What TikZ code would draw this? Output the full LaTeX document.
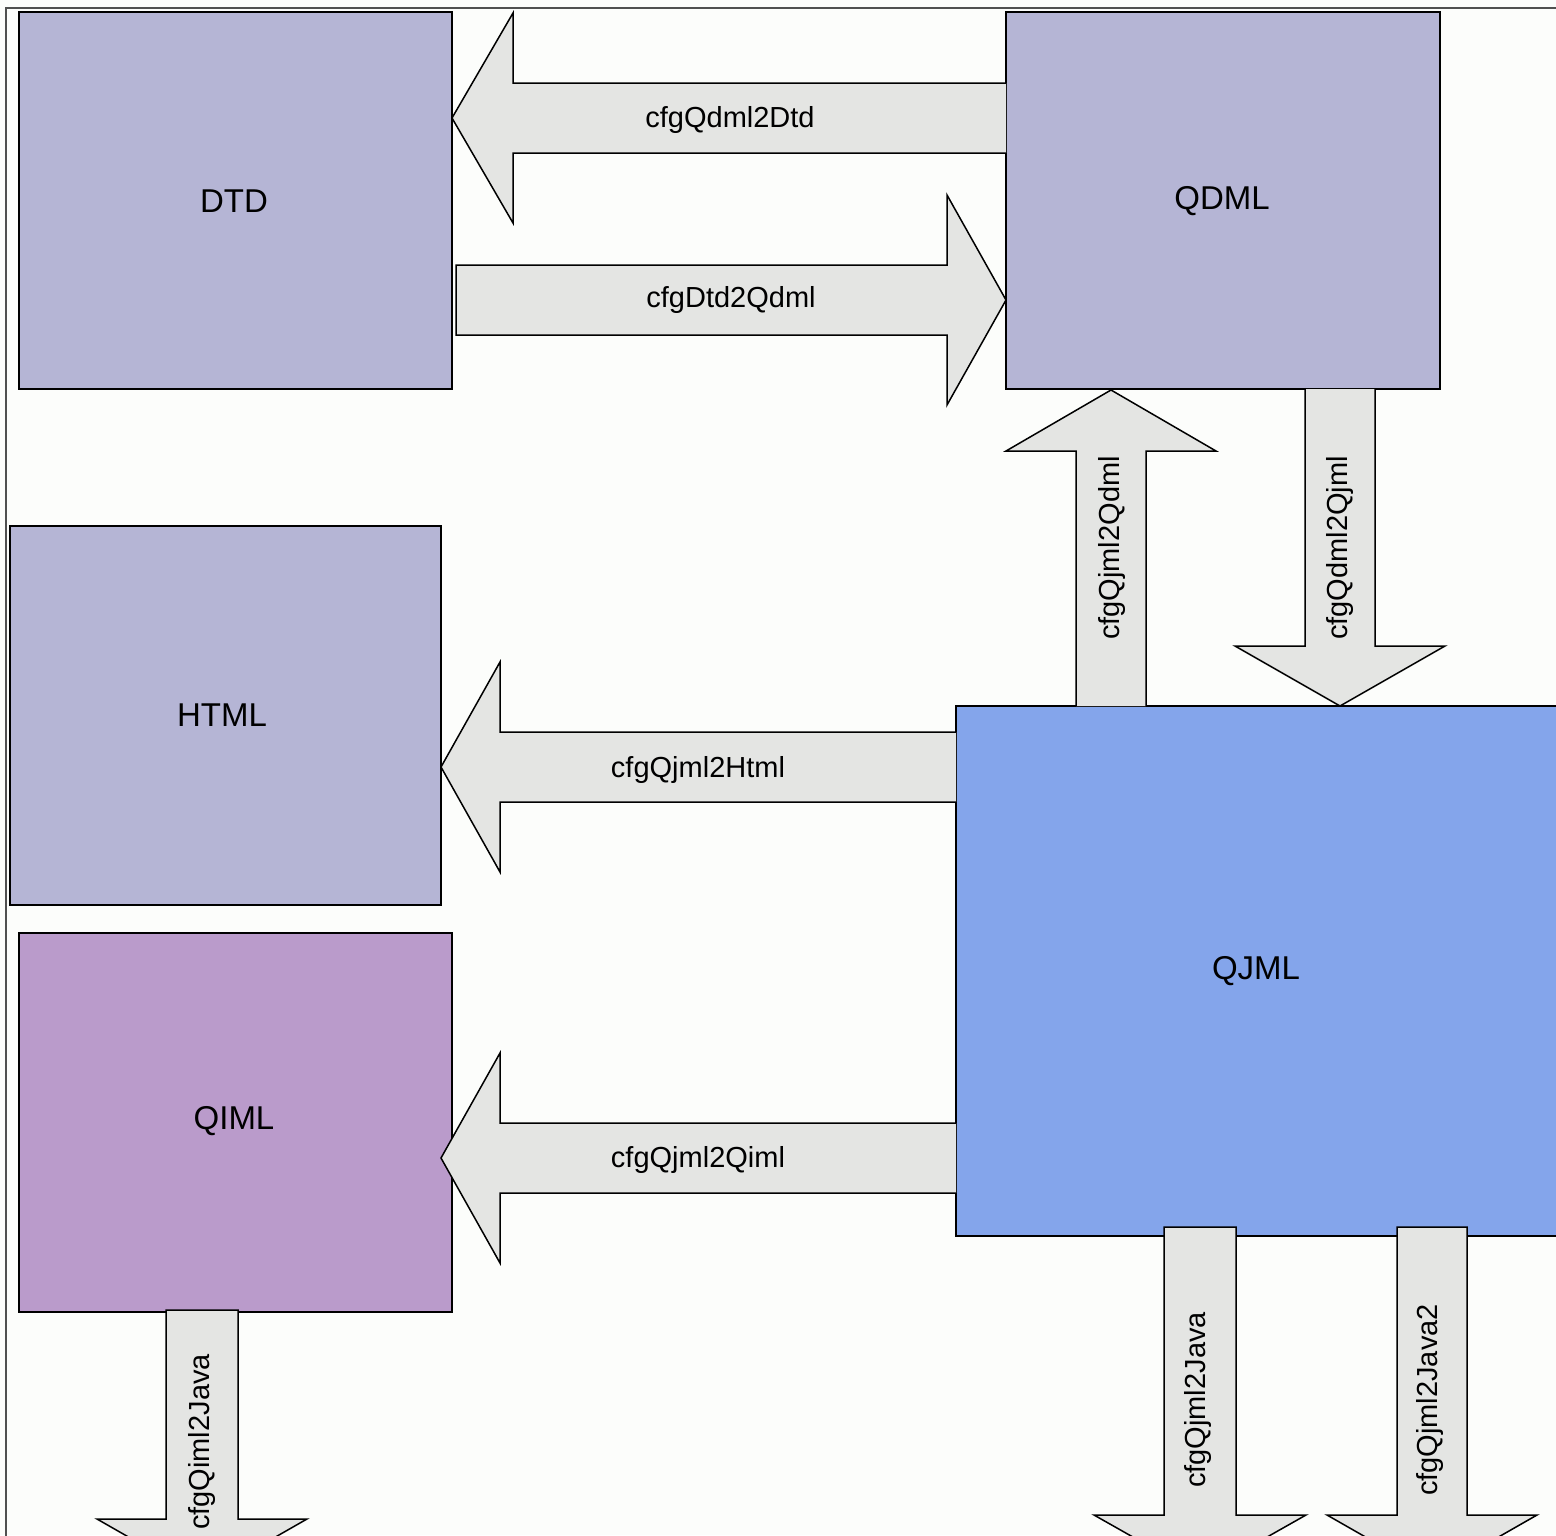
\documentclass[tikz,border=0pt]{standalone}
\usepackage{fontspec}
\setmainfont{Liberation Sans}
\begin{document}
\begin{tikzpicture}[x=1pt,y=-1pt,
  box/.style={draw=black, line width=1.5pt, inner sep=0pt, font=\fontsize{33}{38}\selectfont},
  bigarrow/.style={draw=black, line width=1.5pt, fill=arrowgray, line join=miter},
  arrowlabel/.style={font=\fontsize{29}{34}\selectfont, inner sep=0pt}]
\definecolor{bg}{HTML}{FCFDFB}
\definecolor{lav}{HTML}{B5B5D5}
\definecolor{qimlc}{HTML}{BA9BCB}
\definecolor{qjmlc}{HTML}{84A5EB}
\definecolor{arrowgray}{HTML}{E4E5E3}
\definecolor{framec}{HTML}{505050}
\useasboundingbox (0,0) rectangle (1556,1535);
\clip (0,0) rectangle (1556,1535);
\fill[bg] (0,0) rectangle (1556,1535);
\draw[framec, line width=1.5pt] (6,1540) -- (6,8) -- (1560,8);

% boxes
\draw[box, fill=lav] (19,12) rectangle (452,389);
\node[box, draw=none] (dtd) at (234,201) {DTD};
\draw[box, fill=lav] (1006,12) rectangle (1440,389);
\node[box, draw=none] (qdml) at (1222,201) {QDML};
\draw[box, fill=lav] (10,526) rectangle (441,905);
\node[box, draw=none] (html) at (222,715) {HTML};
\draw[box, fill=qimlc] (19,933) rectangle (452,1312);
\node[box, draw=none] (qiml) at (234,1121) {QIML};
\draw[box, fill=qjmlc] (956,706) rectangle (1600,1236);
\node[box, draw=none] (qjml) at (1256,971) {QJML};

% cfgQdml2Dtd (left)
\draw[bigarrow] (1006,83) -- (513,83) -- (513,13) -- (452,118) -- (513,223) -- (513,153) -- (1006,153);
\node[arrowlabel] (a1) at (730,120) {cfgQdml2Dtd};
% cfgDtd2Qdml (right)
\draw[bigarrow] (456,265) -- (947,265) -- (947,195) -- (1006,300) -- (947,405) -- (947,335) -- (456,335) -- cycle;
\node[arrowlabel] (a2) at (731,300) {cfgDtd2Qdml};
% cfgQjml2Qdml (up)
\draw[bigarrow] (1076,706) -- (1076,451) -- (1006,451) -- (1111,390) -- (1216,451) -- (1146,451) -- (1146,706);
\node[arrowlabel, rotate=90] (a3) at (1112,548) {cfgQjml2Qdml};
% cfgQdml2Qjml (down)
\draw[bigarrow] (1305,389) -- (1305,646) -- (1235,646) -- (1340,706) -- (1445,646) -- (1375,646) -- (1375,389);
\node[arrowlabel, rotate=90] (a4) at (1340,548) {cfgQdml2Qjml};
% cfgQjml2Html (left)
\draw[bigarrow] (956,732) -- (500,732) -- (500,662) -- (441,767) -- (500,872) -- (500,802) -- (956,802);
\node[arrowlabel] (a5) at (698,770) {cfgQjml2Html};
% cfgQjml2Qiml (left)
\draw[bigarrow] (956,1123) -- (500,1123) -- (500,1053) -- (441,1158) -- (500,1263) -- (500,1193) -- (956,1193);
\node[arrowlabel] (a6) at (698,1160) {cfgQjml2Qiml};
% cfgQiml2Java (down)
\draw[bigarrow] (166,1310) -- (166,1519) -- (97,1519) -- (202,1579) -- (307,1519) -- (238,1519) -- (238,1310) -- cycle;
\node[arrowlabel, rotate=90] (a7) at (202,1442) {cfgQiml2Java};
% cfgQjml2Java (down)
\draw[bigarrow] (1164,1227) -- (1164,1515) -- (1094,1515) -- (1200,1575) -- (1306,1515) -- (1236,1515) -- (1236,1227) -- cycle;
\node[arrowlabel, rotate=90] (a8) at (1198,1400) {cfgQjml2Java};
% cfgQjml2Java2 (down)
\draw[bigarrow] (1397,1227) -- (1397,1515) -- (1327,1515) -- (1432,1575) -- (1537,1515) -- (1467,1515) -- (1467,1227) -- cycle;
\node[arrowlabel, rotate=90] (a9) at (1430,1400) {cfgQjml2Java2};
\end{tikzpicture}
\end{document}
